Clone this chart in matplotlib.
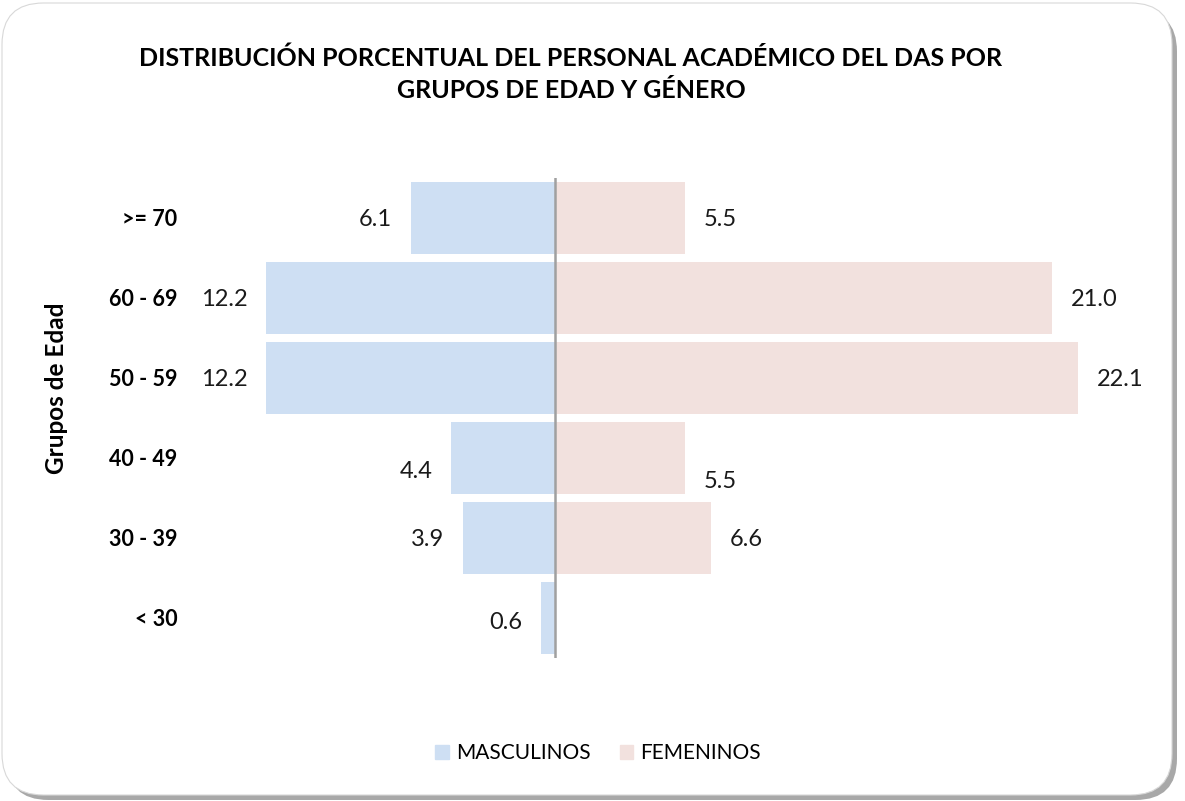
import numpy as np
import matplotlib.pyplot as plt
from matplotlib.patches import FancyBboxPatch, Patch

plt.rcParams['font.family'] = ['Lato', 'DejaVu Sans']

# Data (from bottom to top)
grupos = ['< 30', '30 - 39', '40 - 49', '50 - 59', '60 - 69', '>= 70']
masculinos = [0.6, 3.9, 4.4, 12.2, 12.2, 6.1]
femeninos = [0.0, 6.6, 5.5, 22.1, 21.0, 5.5]

col_m = '#cedff3'
col_f = '#f2e1de'

W, H = 1185, 801
fig = plt.figure(figsize=(W / 100, H / 100), dpi=100)
fig.patch.set_facecolor('white')

# card with shadow
shadow = FancyBboxPatch((7 / W, 1 / H), 1170 / W, 790 / H,
                        boxstyle='round,pad=0,rounding_size=0.035',
                        transform=fig.transFigure, facecolor='#a8a8a8',
                        edgecolor='none', mutation_aspect=W / H, zorder=0)
card = FancyBboxPatch((2 / W, 6 / H), 1170 / W, 792 / H,
                      boxstyle='round,pad=0,rounding_size=0.035',
                      transform=fig.transFigure, facecolor='white',
                      edgecolor='#d8d8d8', linewidth=0.8,
                      mutation_aspect=W / H, zorder=1)
fig.patches.extend([shadow, card])

ax = fig.add_axes([190 / W, 1 - 658 / H, 950 / W, 480 / H])
ax.set_facecolor('none')
ax.set_zorder(2)

y = np.arange(len(grupos))
ax.barh(y, [-v for v in masculinos], height=0.9, color=col_m, label='MASCULINOS')
ax.barh(y, femeninos, height=0.9, color=col_f, label='FEMENINOS')
ax.axvline(0, color='#a0a0a0', linewidth=1.8)

ax.set_xlim(-(555 - 190) / 23.65, (1140 - 555) / 23.65)
ax.set_ylim(-0.5, 5.5)

# value labels (small vertical nudges in points, as in the original)
nudge_m = {2: -10, 0: -3}
nudge_f = {2: -17}
for i in range(len(grupos)):
    if masculinos[i] > 0:
        ax.annotate(f'{masculinos[i]:.1f}', (-masculinos[i], y[i]),
                    xytext=(-13.5, nudge_m.get(i, -1)), textcoords='offset points',
                    ha='right', va='center', fontsize=17, color='#1a1a1a')
    if femeninos[i] > 0:
        ax.annotate(f'{femeninos[i]:.1f}', (femeninos[i], y[i]),
                    xytext=(13.5, nudge_f.get(i, -1)), textcoords='offset points',
                    ha='left', va='center', fontsize=17, color='#1a1a1a')

ax.set_yticks(y)
ax.set_yticklabels(grupos, fontsize=15.5, fontweight='bold')
ax.tick_params(axis='y', length=0, pad=9)
ax.set_xticks([])
for s in ax.spines.values():
    s.set_visible(False)

fig.text(56 / W, 1 - 388 / H, 'Grupos de Edad', rotation=90, ha='center',
         va='center', fontsize=17.5, fontweight='bold', zorder=3)

fig.text(571 / W, 1 - 58 / H, 'DISTRIBUCIÓN PORCENTUAL DEL PERSONAL ACADÉMICO DEL DAS POR',
         ha='center', va='center', fontsize=18, fontweight='bold', zorder=3)
fig.text(571 / W, 1 - 91 / H, 'GRUPOS DE EDAD Y GÉNERO',
         ha='center', va='center', fontsize=18, fontweight='bold', zorder=3)

handles = [Patch(color=col_m, label='MASCULINOS'), Patch(color=col_f, label='FEMENINOS')]
leg = fig.legend(handles=handles, loc='center', bbox_to_anchor=(598 / W, 1 - 753 / H),
                 ncol=2, frameon=False, fontsize=15, handlelength=0.65,
                 handleheight=0.65, handletextpad=0.35, columnspacing=1.4)
leg.set_zorder(3)

plt.savefig('out.png', dpi=100)
